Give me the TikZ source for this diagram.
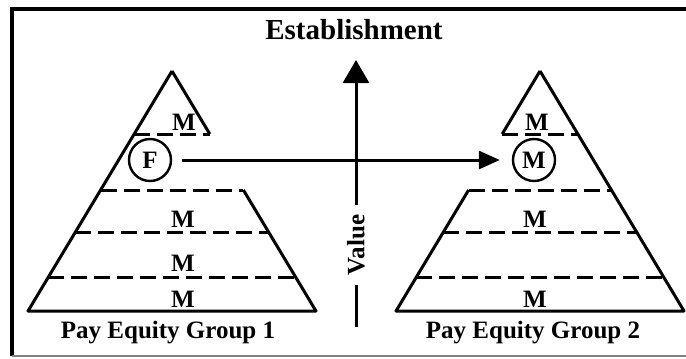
\documentclass[tikz,border=0pt]{standalone}
\usepackage{fontspec}
\setmainfont{Liberation Serif}
\usetikzlibrary{arrows.meta,calc}

\begin{document}
\begin{tikzpicture}[x=0.5bp,y=-0.5bp,line width=1.5bp,
  lbl/.style={font=\fontsize{12.5bp}{15bp}\selectfont\bfseries,inner sep=1bp},
  ring/.style={draw,circle,line width=1.2bp,minimum size=21bp,inner sep=0pt,font=\fontsize{12.5bp}{15bp}\selectfont\bfseries},
  band/.style={dash pattern=on 8bp off 3.5bp}]
  \useasboundingbox (0,0) rectangle (686,358);
  % frame
  \draw[line width=1.6bp] (12,356) -- (12,9) -- (686,9);
  \draw[gray,line width=0.6bp] (12,356) -- (686,356);
  \node[font=\fontsize{14.5bp}{17bp}\selectfont\bfseries] (title) at (354,30) {Establishment};

  % group 1
  \coordinate (a1) at (172,71); \coordinate (l1) at (28,311); \coordinate (r1) at (316,311);
  \draw[line join=round] (a1) -- (l1) -- (r1) -- ($(a1)!0.4958!(r1)$);
  \draw (a1) -- ($(a1)!0.2625!(r1)$);
  \foreach \t in {0.2625,0.4958,0.6708,0.8583}
    \draw[band] ($(a1)!\t!(l1)$) -- ($(a1)!\t!(r1)$);
  \node[lbl] (m11) at (184,122) {M};
  \node[ring] (f) at (150,160) {F};
  \node[lbl] (m12) at (183,219) {M};
  \node[lbl] (m13) at (183,263) {M};
  \node[lbl] (m14) at (183,299) {M};
  \node[lbl] (g1) at (168,333) {Pay Equity Group 1};

  % group 2
  \coordinate (a2) at (540,71); \coordinate (l2) at (396,311); \coordinate (r2) at (684,311);
  \draw[line join=round] (a2) -- (r2) -- (l2) -- ($(a2)!0.4958!(l2)$);
  \draw (a2) -- ($(a2)!0.2625!(l2)$);
  \foreach \t in {0.2625,0.4958,0.6708,0.8583}
    \draw[band] ($(a2)!\t!(l2)$) -- ($(a2)!\t!(r2)$);
  \node[lbl] (m21) at (537,122) {M};
  \node[ring] (m) at (534,160) {M};
  \node[lbl] (m22) at (535,219) {M};
  \node[lbl] (m23) at (535,299) {M};
  \node[lbl] (g2) at (533,333) {Pay Equity Group 2};

  % arrows
  \draw[-{Triangle[length=10.5bp,width=9bp]},shorten <=5bp,shorten >=6bp] (f) -- (m);
  \node[lbl,rotate=90,inner sep=4bp] (val) at (356,245) {Value};
  \coordinate (vb) at (356,327); \coordinate (vt) at (356,60);
  \draw (vb) -- (val.west);
  \draw[-{Triangle[length=11.5bp,width=13bp]}] (val.east) -- (vt);
\end{tikzpicture}
\end{document}
